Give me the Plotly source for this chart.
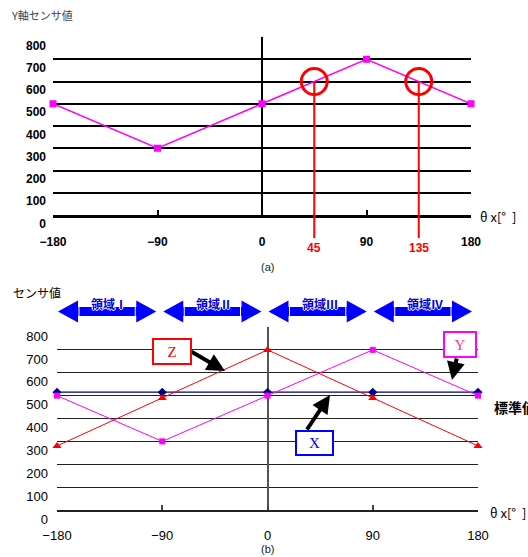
import plotly.graph_objects as go

# ---------------- data ----------------
angles = [-180, -90, 0, 90, 180]
angle_labels = ["−180", "−90", "0", "90", "180"]
y_ticks = [0, 100, 200, 300, 400, 500, 600, 700, 800]

# (a) Y-axis sensor value
top_y_sensor = [500, 300, 500, 700, 500]
marked_angles = [45, 135]
marked_value = 600

# (b) sensor values
sensor_x = [515, 515, 515, 515, 515]
sensor_y = [500, 300, 500, 700, 500]
sensor_z = [280, 490, 700, 490, 280]

region_bounds = [-180, -90, 0, 90, 180]
region_names = ["領域Ⅰ", "領域Ⅱ", "領域Ⅲ", "領域Ⅳ"]

# ---------------- layout helpers ----------------
W, H = 528, 557


def px(x):
    return x / W


def py(y):
    return 1 - y / H


TOP_X = [px(53), px(471)]
TOP_Y = [py(215), py(37)]
BOT_X = [px(57), px(478)]
BOT_Y = [py(510), py(327)]


def dom_frac(v, lo=-180, hi=180):
    return (v - lo) / (hi - lo)


def bot_xpix(v):
    return 57 + dom_frac(v) * (478 - 57)


FONT = "Liberation Sans"
JP = "Noto Sans CJK JP"
SERIF = "Liberation Serif"

fig = go.Figure()

# ---------------- traces ----------------
fig.add_trace(go.Scatter(
    x=angles, y=top_y_sensor, xaxis="x", yaxis="y", mode="lines+markers",
    line=dict(color="#FF00FF", width=1.6),
    marker=dict(symbol="square", size=7, color="#FF00FF"),
    cliponaxis=False, showlegend=False, hoverinfo="skip"))

fig.add_trace(go.Scatter(
    x=angles, y=sensor_x, xaxis="x2", yaxis="y2", mode="lines+markers",
    line=dict(color="#000080", width=1.2),
    marker=dict(symbol="diamond", size=7, color="#000080"),
    cliponaxis=False, showlegend=False, hoverinfo="skip"))
fig.add_trace(go.Scatter(
    x=angles, y=sensor_z, xaxis="x2", yaxis="y2", mode="lines+markers",
    line=dict(color="#FF0000", width=1),
    marker=dict(symbol="triangle-up", size=8, color="#FF0000"),
    cliponaxis=False, showlegend=False, hoverinfo="skip"))
fig.add_trace(go.Scatter(
    x=angles, y=sensor_y, xaxis="x2", yaxis="y2", mode="lines+markers",
    line=dict(color="#FF00FF", width=1),
    marker=dict(symbol="square", size=6, color="#FF00FF"),
    cliponaxis=False, showlegend=False, hoverinfo="skip"))

shapes = []
annotations = []

# ---------------- (a) markers: circles + red lines ----------------
for a in marked_angles:
    frac_x = TOP_X[0] + dom_frac(a) * (TOP_X[1] - TOP_X[0])
    frac_y = TOP_Y[0] + marked_value / 800 * (TOP_Y[1] - TOP_Y[0])
    shapes.append(dict(type="line", xref="paper", yref="paper",
                       x0=frac_x, x1=frac_x, y0=frac_y, y1=py(238),
                       line=dict(color="#FF0000", width=2)))
    shapes.append(dict(type="circle", xref="x", yref="y",
                       xsizemode="pixel", ysizemode="pixel",
                       xanchor=a, yanchor=marked_value,
                       x0=-13, x1=13, y0=-13, y1=13,
                       line=dict(color="#FF0000", width=3)))
    annotations.append(dict(text=str(a), xref="x", yref="paper", x=a, y=py(248),
                            showarrow=False, font=dict(family=FONT, size=12, color="#FF0000", weight="bold")))

# ---------------- (b) region arrows ----------------
cy, hl, hh, sh = 311.5, 20, 11, 4.5
for i, name in enumerate(region_names):
    L = bot_xpix(region_bounds[i]) + 1
    R = bot_xpix(region_bounds[i + 1]) - 6
    pts = [(L, cy), (L + hl, cy - hh), (L + hl, cy - sh), (R - hl, cy - sh), (R - hl, cy - hh),
           (R, cy), (R - hl, cy + hh), (R - hl, cy + sh), (L + hl, cy + sh), (L + hl, cy + hh)]
    path = "M " + " L ".join(f"{px(a):.5f},{py(b):.5f}" for a, b in pts) + " Z"
    shapes.append(dict(type="path", xref="paper", yref="paper", path=path,
                       fillcolor="#0000FF", line=dict(width=0)))
    for xx in (L + hl + 1, R - hl - 1):
        shapes.append(dict(type="line", xref="paper", yref="paper",
                           x0=px(xx), x1=px(xx), y0=py(cy - sh), y1=py(cy + sh),
                           line=dict(color="white", width=1)))
    annotations.append(dict(text=name, xref="paper", yref="paper",
                            x=px((L + R) / 2 + 2), y=py(303), showarrow=False,
                            font=dict(family=JP, size=12, color="#0000E0", weight="bold",
                                      shadow="1px 0 0 white, -1px 0 0 white, 0 1px 0 white, 0 -1px 0 white")))

# ---------------- (b) callout boxes ----------------
def box(text, cx, cy_, w, h, color, tcolor):
    annotations.append(dict(text=text, xref="paper", yref="paper", x=px(cx), y=py(cy_),
                            showarrow=False, width=w, height=h, bgcolor="white",
                            bordercolor=color, borderwidth=2, borderpad=0,
                            font=dict(family=SERIF, size=15, color=tcolor)))


def arrow(hx, hy, tx, ty):
    annotations.append(dict(text="", xref="paper", yref="paper", x=px(hx), y=py(hy),
                            ax=tx - hx, ay=ty - hy, showarrow=True, arrowhead=2,
                            arrowsize=0.9, arrowwidth=4, arrowcolor="black", standoff=0))


arrow(225, 371, 190, 351)
arrow(452, 380, 457, 357)
arrow(330, 395, 306, 431)
box("Z", 172, 351.5, 36, 23, "#FF0000", "#FF0000")
box("Y", 460, 344.5, 30, 23, "#FF00FF", "#FF3399")
box("X", 314, 443, 35, 22, "#0000FF", "#0000FF")

# ---------------- texts ----------------
annotations += [
    dict(text="Y軸センサ値", x=px(9), y=py(15), xanchor="left", showarrow=False,
         font=dict(family=JP, size=11, color="#444444")),
    dict(text="(a)", x=px(267), y=py(267), showarrow=False,
         font=dict(family=FONT, size=11, color="#222222")),
    dict(text="θ x[°  ]", x=px(478), y=py(217), xanchor="left", showarrow=False,
         font=dict(family=JP, size=13, color="black")),
    dict(text="センサ値", x=px(11), y=py(292), xanchor="left", showarrow=False,
         font=dict(family=JP, size=12, color="black")),
    dict(text="標準値", x=px(492), y=py(407), xanchor="left", showarrow=False,
         font=dict(family=JP, size=14, color="black", weight="bold")),
    dict(text="θ x[°  ]", x=px(488), y=py(512), xanchor="left", showarrow=False,
         font=dict(family=JP, size=13, color="black")),
    dict(text="(b)", x=px(267), y=py(549), showarrow=False,
         font=dict(family=FONT, size=11, color="#222222")),
]
for a in annotations:
    a.setdefault("xref", "paper")
    a.setdefault("yref", "paper")
    a.setdefault("xanchor", "center")
    a.setdefault("yanchor", "middle")

# ---------------- axes ----------------
common_x = dict(range=[-180, 180], tickvals=angles, ticktext=angle_labels,
                ticks="inside", ticklen=5, showgrid=False, showline=True,
                zeroline=True, fixedrange=True, automargin=False)
common_y = dict(range=[0, 800], tickvals=y_ticks, showgrid=True, zeroline=False,
                showline=False, ticks="", ticklabelposition="outside bottom",
                fixedrange=True, automargin=False)

fig.update_layout(
    template="none",
    width=W, height=H, margin=dict(l=0, r=0, t=0, b=0, pad=0, autoexpand=False),
    paper_bgcolor="white", plot_bgcolor="white",
    xaxis=dict(**common_x, domain=TOP_X, anchor="y", tickwidth=2, tickcolor="black",
               linecolor="black", linewidth=2.5, zerolinecolor="black", zerolinewidth=2,
               ticklabelstandoff=14,
               tickfont=dict(family=FONT, size=12, color="black", weight="bold")),
    yaxis=dict(**common_y, domain=TOP_Y, anchor="x", gridcolor="black", gridwidth=1.6,
               ticklabelstandoff=6,
               tickfont=dict(family=FONT, size=12, color="black", weight="bold")),
    xaxis2=dict(**common_x, domain=BOT_X, anchor="y2", tickwidth=1.5, tickcolor="#444444",
                linecolor="#222222", linewidth=1.8, zerolinecolor="#555555", zerolinewidth=1.5,
                ticklabelstandoff=12,
                tickfont=dict(family=FONT, size=13, color="black")),
    yaxis2=dict(**common_y, domain=BOT_Y, anchor="x2", gridcolor="#222222", gridwidth=1.2,
                ticklabelstandoff=8,
                tickfont=dict(family=FONT, size=13, color="black")),
    shapes=shapes, annotations=annotations,
)

fig.write_html("out.html")
